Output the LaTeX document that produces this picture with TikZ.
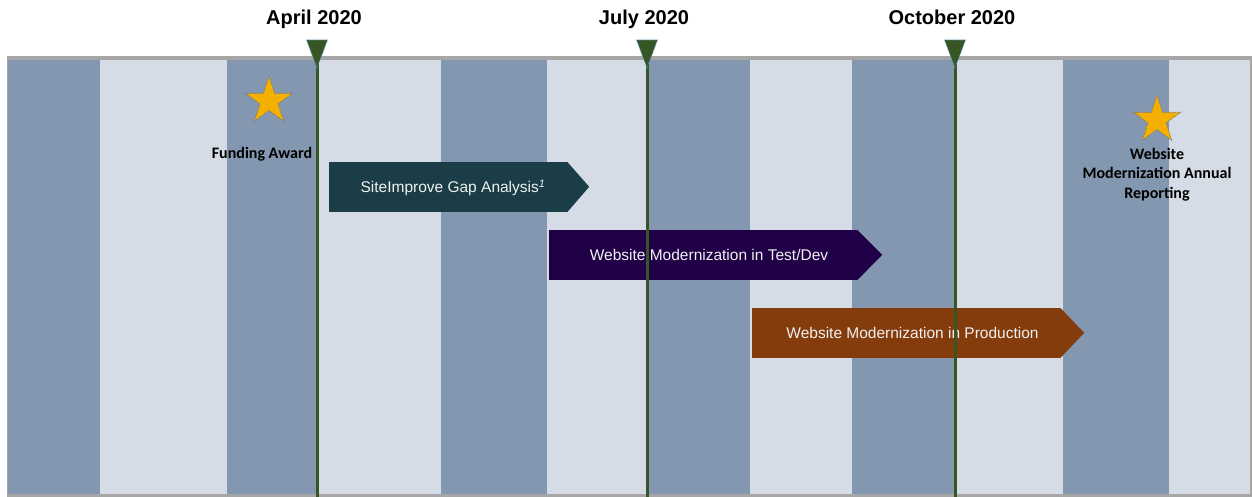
\documentclass[tikz,border=0pt]{standalone}
\usepackage{fontspec}
\setmainfont{Liberation Sans}
\newfontfamily\calibri{Carlito}
\usetikzlibrary{shapes.geometric}
\definecolor{banddark}{HTML}{8497B0}
\definecolor{bandlight}{HTML}{D6DCE5}
\definecolor{framegray}{HTML}{A6A6A6}
\definecolor{milegreen}{HTML}{375623}
\definecolor{markblue}{HTML}{5B9BD5}
\definecolor{stargold}{HTML}{F4B000}
\definecolor{gapteal}{HTML}{1B3D47}
\definecolor{devpurple}{HTML}{200046}
\definecolor{prodbrown}{HTML}{843C0C}
\tikzset{
  phasebar/.style={inner sep=0pt, minimum height=50, text=white!94!black,
    text height=11.1pt, text depth=0pt, font=\fontsize{15.5}{18}\selectfont},
  datelabel/.style={inner sep=0pt, anchor=base, font=\bfseries\fontsize{20}{24}\selectfont},
  milestone/.style={milegreen, line width=3pt},
  marker/.style={fill=milegreen, draw=markblue, dashed, line width=0.6pt, dash pattern=on 1.5pt off 1pt},
  awardstar/.style={star, star points=5, star point ratio=2.618, minimum size=50, inner sep=0pt,
    fill=stargold, draw=black!55, line width=0.6pt, dash pattern=on 1.5pt off 1pt},
  awardlabel/.style={inner sep=0pt, align=center, font=\calibri\bfseries\fontsize{16}{19.5}\selectfont}
}
\begin{document}
\begin{tikzpicture}[x=1pt, y=-1pt]
  \useasboundingbox (0,0) rectangle (1252,497);
  \fill[framegray] (7,56) rectangle (1252,497);
  \foreach \xa/\xb/\c in {8/100/banddark, 100/227/bandlight, 227/317/banddark,
      317/441/bandlight, 441/547/banddark, 547/647/bandlight, 647/750/banddark,
      750/852/bandlight, 852/955/banddark, 955/1063/bandlight, 1063/1169/banddark,
      1169/1250/bandlight}
    \fill[\c] (\xa,60) rectangle (\xb,494);

  \node[phasebar, fill=gapteal, minimum width=238] (gap) at (448,187)
    {\hspace*{10pt}SiteImprove Gap Analysis\textsuperscript{\textit{1}}};
  \node[phasebar, fill=devpurple, minimum width=308] (dev) at (703,255)
    {\hspace*{12pt}Website Modernization in Test/Dev};
  \node[phasebar, fill=prodbrown, minimum width=308] (prod) at (906,333)
    {\hspace*{13pt}Website Modernization in Production};
  \fill[gapteal] (gap.north east) -- ++(22,25) -- (gap.south east) -- cycle;
  \fill[devpurple] (dev.north east) -- ++(25,25) -- (dev.south east) -- cycle;
  \fill[prodbrown] (prod.north east) -- ++(24,25) -- (prod.south east) -- cycle;

  \node[awardstar] (fundstar) at (269,101) {};
  \node[awardlabel, anchor=base] (fundlab) at (262,159) {Funding Award};
  \node[awardstar] (reportstar) at (1157,120) {};
  \node[awardlabel, anchor=north] (reportlab) at (1157,148)
    {Website\\Modernization Annual\\Reporting};

  \foreach \n/\x/\lab in {apr/317/April 2020, jul/647/July 2020, oct/955/October 2020}{
    \coordinate (\n top) at (\x,40);
    \coordinate (\n foot) at (\x,497);
    \node[datelabel] (\n) at (\x-3,25) {\lab};
    \draw[milestone] (\n top) -- (\n foot);
    \filldraw[marker] (\n top) ++(-10.5,0) -- ++(21,0) -- (\x,68) -- cycle;
  }
\end{tikzpicture}
\end{document}
